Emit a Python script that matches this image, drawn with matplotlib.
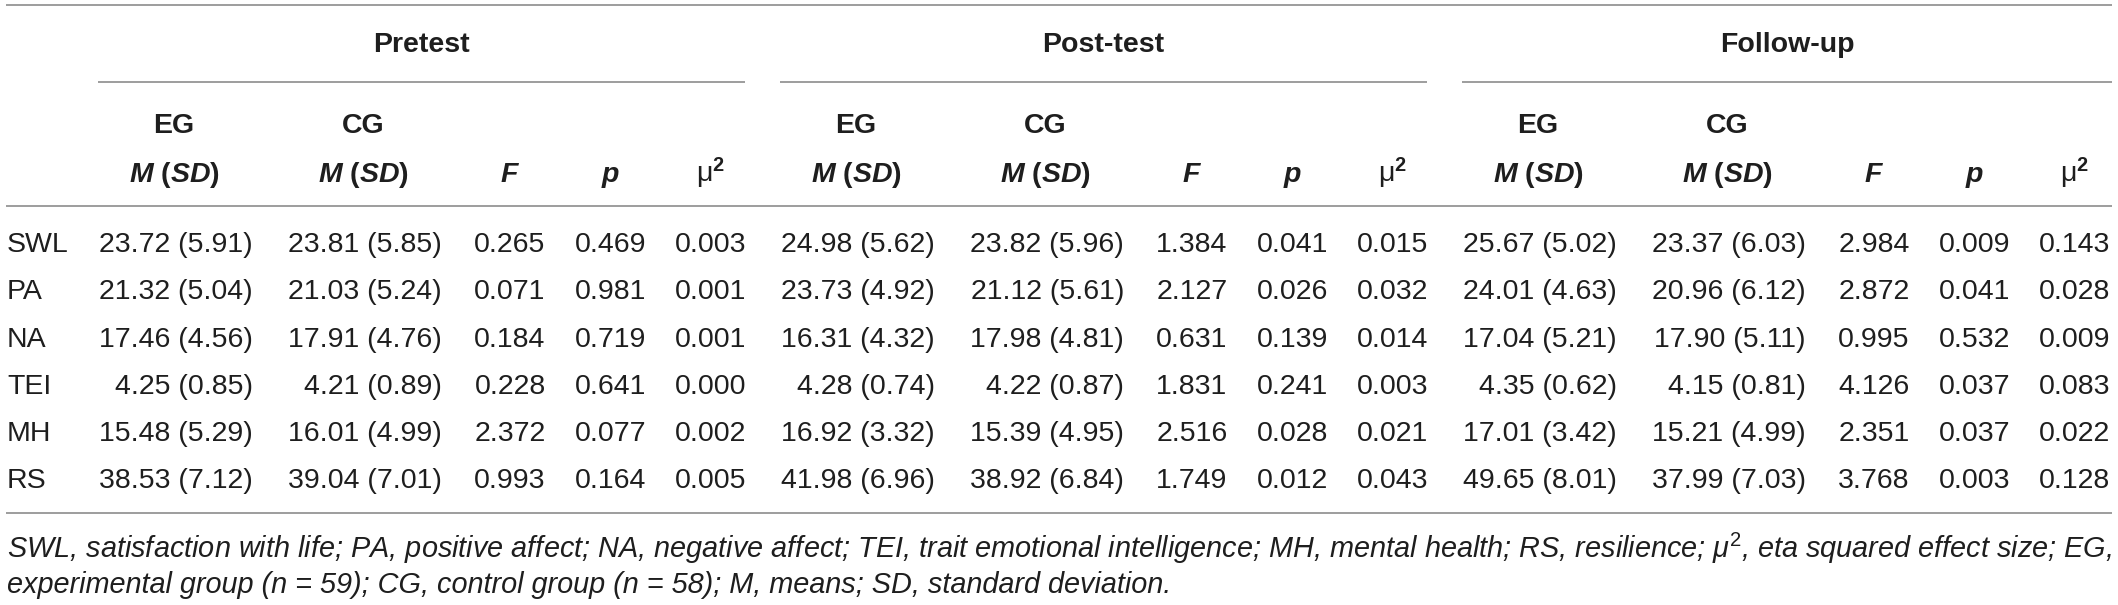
import matplotlib
matplotlib.use("Agg")
import matplotlib.pyplot as plt

plt.rcParams['font.family'] = ['Liberation Sans', 'DejaVu Sans']
plt.rcParams['mathtext.fontset'] = 'custom'
plt.rcParams['mathtext.rm'] = 'Liberation Sans'
plt.rcParams['mathtext.it'] = 'Liberation Sans:italic'
plt.rcParams['mathtext.bf'] = 'Liberation Sans:bold'
plt.rcParams['mathtext.bfit'] = 'Liberation Sans:italic:bold'

# ---------------- data ----------------
rows = ['SWL', 'PA', 'NA', 'TEI', 'MH', 'RS']
phases = ['Pretest', 'Post-test', 'Follow-up']

pre_eg_m = [23.72, 21.32, 17.46, 4.25, 15.48, 38.53]
pre_eg_sd = [5.91, 5.04, 4.56, 0.85, 5.29, 7.12]
pre_cg_m = [23.81, 21.03, 17.91, 4.21, 16.01, 39.04]
pre_cg_sd = [5.85, 5.24, 4.76, 0.89, 4.99, 7.01]
pre_F = [0.265, 0.071, 0.184, 0.228, 2.372, 0.993]
pre_p = [0.469, 0.981, 0.719, 0.641, 0.077, 0.164]
pre_mu = [0.003, 0.001, 0.001, 0.000, 0.002, 0.005]

post_eg_m = [24.98, 23.73, 16.31, 4.28, 16.92, 41.98]
post_eg_sd = [5.62, 4.92, 4.32, 0.74, 3.32, 6.96]
post_cg_m = [23.82, 21.12, 17.98, 4.22, 15.39, 38.92]
post_cg_sd = [5.96, 5.61, 4.81, 0.87, 4.95, 6.84]
post_F = [1.384, 2.127, 0.631, 1.831, 2.516, 1.749]
post_p = [0.041, 0.026, 0.139, 0.241, 0.028, 0.012]
post_mu = [0.015, 0.032, 0.014, 0.003, 0.021, 0.043]

fu_eg_m = [25.67, 24.01, 17.04, 4.35, 17.01, 49.65]
fu_eg_sd = [5.02, 4.63, 5.21, 0.62, 3.42, 8.01]
fu_cg_m = [23.37, 20.96, 17.90, 4.15, 15.21, 37.99]
fu_cg_sd = [6.03, 6.12, 5.11, 0.81, 4.99, 7.03]
fu_F = [2.984, 2.872, 0.995, 4.126, 2.351, 3.768]
fu_p = [0.009, 0.041, 0.532, 0.037, 0.037, 0.003]
fu_mu = [0.143, 0.028, 0.009, 0.083, 0.022, 0.128]

footnote1 = ("SWL, satisfaction with life; PA, positive affect; NA, negative affect; "
             "TEI, trait emotional intelligence; MH, mental health; RS, resilience; "
             "\u03bc$^{2}$, eta squared effect size; EG,")
footnote2 = ("experimental group (n = 59); CG, control group (n = 58); "
             "M, means; SD, standard deviation.")

groups = [
    (pre_eg_m, pre_eg_sd, pre_cg_m, pre_cg_sd, pre_F, pre_p, pre_mu),
    (post_eg_m, post_eg_sd, post_cg_m, post_cg_sd, post_F, post_p, post_mu),
    (fu_eg_m, fu_eg_sd, fu_cg_m, fu_cg_sd, fu_F, fu_p, fu_mu),
]

# ---------------- layout ----------------
W, H = 2118, 605
fig = plt.figure(figsize=(W / 100, H / 100), dpi=100)
ax = fig.add_axes([0, 0, 1, 1])
ax.set_xlim(0, W)
ax.set_ylim(H, 0)
ax.axis('off')

FS = 20.5
FS_NOTE = 20.8
TXT = '#1e1e1e'
LINE = '#8c8c8c'
LW = 1.2

# full-width rules
for y in (5, 206, 513):
    ax.plot([6, 2112], [y, y], color=LINE, lw=LW, solid_capstyle='butt')

offsets = [0, 682, 1364]
line_spans = [(98, 745), (780, 1427), (1462, 2112)]
col_eg, col_cg, col_F, col_p, col_mu = 174, 363, 510, 611, 711
half_ms = 79

y_title, y_eg, y_msd = 52, 133, 182
row_base0, row_step = 252, 47.3

for gi, (off, span, name) in enumerate(zip(offsets, line_spans, phases)):
    ax.plot(list(span), [82, 82], color=LINE, lw=LW, solid_capstyle='butt')
    ax.text((span[0] + span[1]) / 2, y_title, name, ha='center', va='baseline',
            fontsize=FS, fontweight='bold', color=TXT)
    ax.text(col_eg + off, y_eg, 'EG', ha='center', va='baseline',
            fontsize=FS, fontweight='bold', color=TXT)
    ax.text(col_cg + off, y_eg, 'CG', ha='center', va='baseline',
            fontsize=FS, fontweight='bold', color=TXT)
    for cx in (col_eg, col_cg):
        ax.text(cx + off, y_msd, r'$\mathbfit{M}$ ($\mathbfit{SD}$)', ha='center',
                va='baseline', fontsize=FS, fontweight='bold', color=TXT)
    ax.text(col_F + off, y_msd, r'$\mathbfit{F}$', ha='center', va='baseline',
            fontsize=FS, color=TXT)
    ax.text(col_p + off, y_msd, r'$\mathbfit{p}$', ha='center', va='baseline',
            fontsize=FS, color=TXT)
    ax.text(col_mu + off, y_msd, '\u03bc$^{\\mathbf{2}}$', ha='center', va='baseline',
            fontsize=FS, color=TXT)

    em, esd, cm, csd, F, p, mu = groups[gi]
    for ri in range(len(rows)):
        yb = row_base0 + ri * row_step
        ax.text(col_eg + off + half_ms, yb, f'{em[ri]:.2f} ({esd[ri]:.2f})',
                ha='right', va='baseline', fontsize=FS, color=TXT)
        ax.text(col_cg + off + half_ms, yb, f'{cm[ri]:.2f} ({csd[ri]:.2f})',
                ha='right', va='baseline', fontsize=FS, color=TXT)
        ax.text(col_F + off, yb, f'{F[ri]:.3f}', ha='center', va='baseline',
                fontsize=FS, color=TXT)
        ax.text(col_p + off, yb, f'{p[ri]:.3f}', ha='center', va='baseline',
                fontsize=FS, color=TXT)
        ax.text(col_mu + off, yb, f'{mu[ri]:.3f}', ha='center', va='baseline',
                fontsize=FS, color=TXT)

for ri, r in enumerate(rows):
    ax.text(7, row_base0 + ri * row_step, r, ha='left', va='baseline',
            fontsize=FS, color=TXT)

ax.text(7, 558, footnote1, ha='left', va='baseline', fontsize=FS_NOTE,
        style='italic', color=TXT)
ax.text(7, 593, footnote2, ha='left', va='baseline', fontsize=FS_NOTE,
        style='italic', color=TXT)

fig.savefig('out.png', dpi=100)
